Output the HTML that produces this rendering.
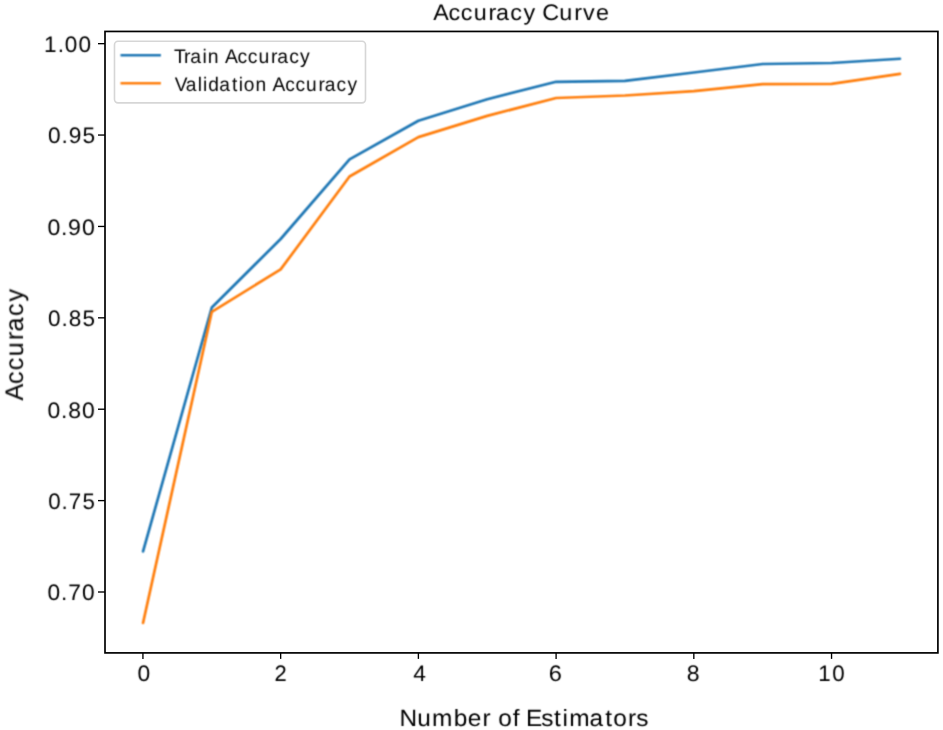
<!DOCTYPE html>
<html><head><meta charset="utf-8"><style>
html,body{margin:0;padding:0;background:#fff;width:943px;height:730px;overflow:hidden}
svg{display:block}
text{font-family:"Liberation Sans",sans-serif;text-rendering:geometricPrecision}
</style></head><body>
<svg width="943" height="730" viewBox="0 0 943 730">
<defs><filter id="soft" x="0" y="0" width="943" height="730" filterUnits="userSpaceOnUse" color-interpolation-filters="sRGB"><feConvolveMatrix order="3" kernelMatrix="1 4 1 4 16 4 1 4 1" edgeMode="none" preserveAlpha="false"/></filter><filter id="soft2" x="0" y="0" width="943" height="730" filterUnits="userSpaceOnUse" color-interpolation-filters="sRGB"><feConvolveMatrix order="3" kernelMatrix="1 2 1 2 4 2 1 2 1" edgeMode="none" preserveAlpha="false"/></filter></defs>
<rect x="0" y="0" width="943" height="730" fill="#fff"/>
<g filter="url(#soft2)">
<polyline points="143.05,551.37 211.79,307.50 280.65,239.00 349.52,159.40 418.38,120.70 487.24,99.20 556.10,81.80 624.96,80.80 693.83,72.50 762.69,64.00 831.55,63.00 899.96,58.73" fill="none" stroke="#1f77b4" stroke-width="2.7" stroke-linejoin="round" stroke-linecap="round"/>
<polyline points="143.03,622.96 211.79,311.80 280.65,269.40 349.52,176.50 418.38,137.10 487.24,115.90 556.10,98.00 624.96,95.50 693.83,91.20 762.69,84.20 831.55,83.90 899.97,73.96" fill="none" stroke="#ff7f0e" stroke-width="2.7" stroke-linejoin="round" stroke-linecap="round"/>
</g>
<rect x="105.0" y="31.45" width="832.90" height="621.45" fill="none" stroke="#000" stroke-width="1.7" stroke-linejoin="miter"/>
<line x1="98.0" y1="43.66" x2="105.0" y2="43.66" stroke="#000" stroke-width="1.35"/>
<line x1="98.0" y1="135.05" x2="105.0" y2="135.05" stroke="#000" stroke-width="1.35"/>
<line x1="98.0" y1="226.44" x2="105.0" y2="226.44" stroke="#000" stroke-width="1.35"/>
<line x1="98.0" y1="317.83" x2="105.0" y2="317.83" stroke="#000" stroke-width="1.35"/>
<line x1="98.0" y1="409.22" x2="105.0" y2="409.22" stroke="#000" stroke-width="1.35"/>
<line x1="98.0" y1="500.61" x2="105.0" y2="500.61" stroke="#000" stroke-width="1.35"/>
<line x1="98.0" y1="592.00" x2="105.0" y2="592.00" stroke="#000" stroke-width="1.35"/>
<line x1="142.93" y1="652.9" x2="142.93" y2="658.9" stroke="#000" stroke-width="1.35"/>
<line x1="280.65" y1="652.9" x2="280.65" y2="658.9" stroke="#000" stroke-width="1.35"/>
<line x1="418.38" y1="652.9" x2="418.38" y2="658.9" stroke="#000" stroke-width="1.35"/>
<line x1="556.10" y1="652.9" x2="556.10" y2="658.9" stroke="#000" stroke-width="1.35"/>
<line x1="693.83" y1="652.9" x2="693.83" y2="658.9" stroke="#000" stroke-width="1.35"/>
<line x1="831.55" y1="652.9" x2="831.55" y2="658.9" stroke="#000" stroke-width="1.35"/>
<rect x="114.5" y="41.3" width="251.0" height="61.55" rx="3.5" ry="3.5" fill="#fff" fill-opacity="0.8" stroke="#cccccc" stroke-opacity="0.8" stroke-width="1.6"/>
<g filter="url(#soft2)">
<line x1="121.75" y1="55.2" x2="159.65" y2="55.2" stroke="#1f77b4" stroke-width="2.5" stroke-linecap="square"/>
<line x1="121.75" y1="83.35" x2="159.65" y2="83.35" stroke="#ff7f0e" stroke-width="2.5" stroke-linecap="square"/>
</g>
<g fill="#000" filter="url(#soft)">
<text transform=" translate(0,52.00) scale(1.0077,1)" x="43.73 57.21 64.35 78.02" y="0" font-size="22.4">1.00</text>
<text transform=" translate(0,143.00) scale(1.0132,1)" x="47.41 60.72 67.74 81.33" y="0" font-size="22.4">0.95</text>
<text transform=" translate(0,235.00) scale(1.0312,1)" x="46.04 59.17 66.01 79.44" y="0" font-size="22.4">0.90</text>
<text transform=" translate(0,326.00) scale(1.0065,1)" x="47.77 61.15 68.31 81.91" y="0" font-size="22.4">0.85</text>
<text transform=" translate(0,418.00) scale(1.0244,1)" x="46.39 59.58 66.56 80.01" y="0" font-size="22.4">0.80</text>
<text transform=" translate(0,509.00) scale(0.9962,1)" x="48.33 61.82 69.03 82.83" y="0" font-size="22.4">0.75</text>
<text transform=" translate(0,600.00) scale(1.0143,1)" x="46.91 60.21 67.24 80.87" y="0" font-size="22.4">0.70</text>
<text transform=" translate(0,681.00) scale(1.0193,1)" x="134.80" y="0" font-size="22.4">0</text>
<text transform=" translate(0,681.00) scale(0.9825,1)" x="279.42" y="0" font-size="22.4">2</text>
<text transform=" translate(0,681.00) scale(1.0194,1)" x="405.40" y="0" font-size="22.4">4</text>
<text transform=" translate(0,681.00) scale(1.0549,1)" x="520.17" y="0" font-size="22.4">6</text>
<text transform=" translate(0,681.00) scale(1.0303,1)" x="666.66" y="0" font-size="22.4">8</text>
<text transform=" translate(0,681.00) scale(0.9976,1)" x="820.35 834.27" y="0" font-size="22.4">10</text>
<text transform=" translate(0,20.00) scale(1.0417,1)" x="415.98 430.51 442.36 454.70 468.92 476.23 489.94 502.49 514.48 520.64 536.93 551.16 559.67 572.09" y="0" font-size="22.4">Accuracy Curve</text>
<text transform=" translate(0,726.00) scale(1.0393,1)" x="384.43 401.38 415.74 436.59 450.12 464.27 472.26 479.32 493.35 500.18 506.06 520.81 533.15 541.17 547.67 567.32 582.30 590.03 604.19 612.13" y="0" font-size="23.5">Number of Estimators</text>
<text transform="translate(23.00,0) rotate(-90) translate(0,0.00) scale(0.9891,1)" x="-405.04 -388.24 -374.54 -360.26 -343.83 -335.35 -319.50 -304.98" y="0" font-size="25.6">Accuracy</text>
<text transform=" translate(0,63.00) scale(0.9844,1)" x="176.80 186.82 193.27 205.73 211.14 222.59 228.56 241.37 251.81 262.69 275.22 281.67 293.75 304.81" y="0" font-size="19.7">Train Accuracy</text>
<text transform=" translate(0,91.00) scale(0.9724,1)" x="179.60 190.93 203.47 208.80 214.13 225.50 238.54 245.57 250.80 262.78 274.29 280.37 293.28 303.83 314.80 327.44 333.96 346.15 357.31" y="0" font-size="19.7">Validation Accuracy</text>
</g>
</svg>
</body></html>
